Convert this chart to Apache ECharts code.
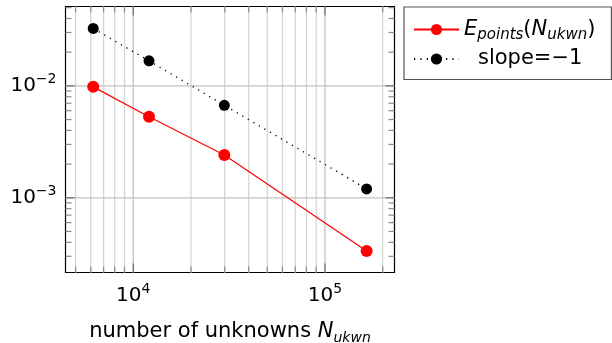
<!DOCTYPE html>
<html>
<head>
<meta charset="utf-8">
<script src="https://cdn.jsdelivr.net/npm/echarts@6/dist/echarts.min.js"></script>
<style>
  html, body { margin: 0; padding: 0; background: #fff; }
  #chart { width: 612px; height: 343px; }
</style>
</head>
<body>
<div id="chart"></div>
<script>
// Number of unknowns for each refinement level
const unknowns = [6180, 12080, 29850, 164900];
// Point-wise error at each level
const errPoints = [0.0098, 0.0053, 0.00241, 0.000334];
// Reference line with slope -1
const slopeRef = [0.0326, 0.01675, 0.00671, 0.0012];

// Labelled decades on each axis
const xTickValues = [1e4, 1e5];
const yTickValues = [1e-3, 1e-2];

// Axis extents
const xRange = [4430, 230500];
const yRange = [2.15e-4, 0.0512];

const FONT = 'DejaVu Sans';

// Log-decade tick positions (mantissa 1..9) inside a range
function logTicks(range) {
  const out = [];
  const lo = Math.floor(Math.log10(range[0]));
  const hi = Math.ceil(Math.log10(range[1]));
  for (let e = lo; e <= hi; e++) {
    for (let m = 1; m <= 9; m++) {
      const v = m * Math.pow(10, e);
      if (v >= range[0] && v <= range[1]) out.push(v);
    }
  }
  return out;
}
function isDecade(v) {
  const l = Math.log10(v);
  return Math.abs(l - Math.round(l)) < 1e-9;
}
function powLabel(v) {
  const e = Math.round(Math.log10(v));
  return '{b|10}{s|' + (e < 0 ? '\u2212' + (-e) : e) + '}';
}

const xMarks = logTicks(xRange);
const yMarks = logTicks(yRange);

const TICK_COLOR = '#8a8a8a';
const MAJOR_TICK_COLOR = '#6a6a6a';

// Vertical grid lines plus top/bottom ticks
function renderXMark(params, api) {
  const v = api.value(0);
  const cs = params.coordSys;
  const x = api.coord([v, api.value(1)])[0];
  const major = isDecade(v);
  const len = major ? 9 : 6;
  const tc = major ? MAJOR_TICK_COLOR : TICK_COLOR;
  const top = cs.y, bot = cs.y + cs.height;
  return {
    type: 'group',
    children: [
      { type: 'line', shape: { x1: x, y1: top, x2: x, y2: bot },
        style: { stroke: major ? '#c2c2c2' : '#d6d6d6', lineWidth: 1.3 } },
      { type: 'line', shape: { x1: x, y1: bot, x2: x, y2: bot - len },
        style: { stroke: tc, lineWidth: 1.2 } },
      { type: 'line', shape: { x1: x, y1: top, x2: x, y2: top + len },
        style: { stroke: tc, lineWidth: 1.2 } }
    ]
  };
}

// Horizontal grid lines at decades plus left/right ticks
function renderYMark(params, api) {
  const v = api.value(1);
  const cs = params.coordSys;
  const y = api.coord([api.value(0), v])[1];
  const major = isDecade(v);
  const len = major ? 9 : 6;
  const tc = major ? MAJOR_TICK_COLOR : TICK_COLOR;
  const left = cs.x, right = cs.x + cs.width;
  const children = [
    { type: 'line', shape: { x1: left, y1: y, x2: left + len, y2: y },
      style: { stroke: tc, lineWidth: 1.2 } },
    { type: 'line', shape: { x1: right, y1: y, x2: right - len, y2: y },
      style: { stroke: tc, lineWidth: 1.2 } }
  ];
  if (major) {
    children.unshift({ type: 'line', shape: { x1: left, y1: y, x2: right, y2: y },
      style: { stroke: '#c2c2c2', lineWidth: 1.3 } });
  }
  return { type: 'group', children: children };
}

const supRich = {
  b: { fontFamily: FONT, fontSize: 20, lineHeight: 27, color: '#000' },
  s: { fontFamily: FONT, fontSize: 14, lineHeight: 14, verticalAlign: 'top', color: '#000' }
};

const legendNames = {
  Epoints: '{i|E}{sub|points}{p|(}{i|N}{sub|ukwn}{p|)}',
  slope: '{c|slope=\u22121}'
};

const chart = echarts.init(document.getElementById('chart'), null, { renderer: 'canvas' });

chart.setOption({
  animation: false,
  backgroundColor: '#fff',
  grid: {
    left: 65.5, top: 6.5, right: 217.5, bottom: 70.5,
    outerBoundsMode: 'none',
    containLabel: false,
    show: true, borderColor: '#000', borderWidth: 1.2, backgroundColor: 'transparent'
  },
  legend: {
    data: ['Epoints', 'slope'],
    orient: 'vertical',
    left: 404, top: 7,
    padding: [12, 16, 10, 9],
    itemGap: 6,
    itemWidth: 45,
    itemHeight: 14,
    borderColor: '#555',
    borderWidth: 1.2,
    formatter: function (name) { return legendNames[name]; },
    textStyle: {
      fontFamily: FONT,
      color: '#000',
      rich: {
        i: { fontFamily: FONT, fontSize: 21, fontStyle: 'italic', lineHeight: 26, color: '#000' },
        sub: { fontFamily: FONT, fontSize: 15, fontStyle: 'italic', lineHeight: 15, verticalAlign: 'bottom', color: '#000' },
        p: { fontFamily: FONT, fontSize: 21, lineHeight: 26, color: '#000' },
        c: { fontFamily: FONT, fontSize: 21, lineHeight: 26, color: '#000', padding: [0, 0, 0, 14] }
      }
    }
  },
  xAxis: {
    type: 'log',
    logBase: 10,
    min: xRange[0],
    max: xRange[1],
    axisLine: { show: false },
    axisTick: { show: false },
    splitLine: { show: false },
    minorTick: { show: false },
    axisLabel: {
      customValues: xTickValues,
      margin: 10,
      formatter: powLabel,
      rich: supRich
    },
    name: '{r|number of unknowns }{i|N}{sub|ukwn}',
    nameLocation: 'middle',
    nameGap: 45,
    nameTextStyle: {
      rich: {
        r: { fontFamily: FONT, fontSize: 21, lineHeight: 28, color: '#000' },
        i: { fontFamily: FONT, fontSize: 21, fontStyle: 'italic', lineHeight: 28, color: '#000' },
        sub: { fontFamily: FONT, fontSize: 14, fontStyle: 'italic', lineHeight: 14, verticalAlign: 'bottom', color: '#000' }
      }
    }
  },
  yAxis: {
    type: 'log',
    logBase: 10,
    min: yRange[0],
    max: yRange[1],
    axisLine: { show: false },
    axisTick: { show: false },
    splitLine: { show: false },
    minorTick: { show: false },
    axisLabel: {
      customValues: yTickValues,
      margin: 9,
      formatter: powLabel,
      rich: supRich
    }
  },
  series: [
    {
      type: 'custom',
      silent: true,
      z: 1,
      renderItem: renderXMark,
      data: xMarks.map(function (v) { return [v, 1e-3]; })
    },
    {
      type: 'custom',
      silent: true,
      z: 1,
      renderItem: renderYMark,
      data: yMarks.map(function (v) { return [1e4, v]; })
    },
    {
      name: 'Epoints',
      type: 'line',
      z: 5,
      data: unknowns.map(function (x, i) { return [x, errPoints[i]]; }),
      symbol: 'circle',
      symbolSize: 12,
      lineStyle: { color: '#ff0000', width: 1.2 },
      itemStyle: { color: '#ff0000' }
    },
    {
      name: 'slope',
      type: 'line',
      z: 4,
      data: unknowns.map(function (x, i) { return [x, slopeRef[i]]; }),
      symbol: 'circle',
      symbolSize: 11,
      lineStyle: { color: '#000', width: 1.4, type: [1.2, 5.2] },
      itemStyle: { color: '#000' }
    }
  ]
});
</script>
</body>
</html>
